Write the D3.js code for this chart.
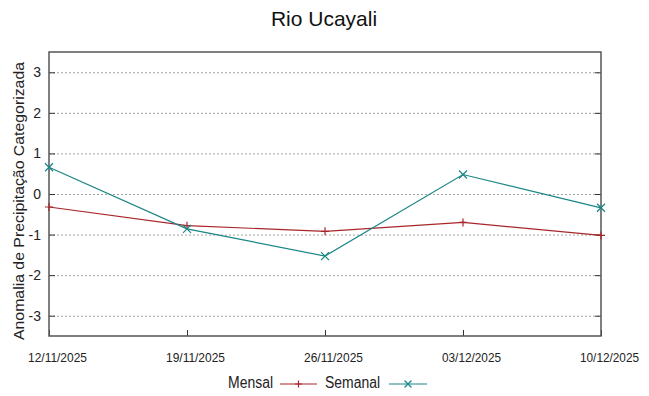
<!DOCTYPE html>
<html><head><meta charset="utf-8">
<script src="https://cdn.jsdelivr.net/npm/d3@7"></script>
<style>body{margin:0;background:#fff}svg{display:block;font-family:"Liberation Sans",Arial,sans-serif}</style>
</head><body><svg id="c" width="649" height="396"></svg>
<script>
const title = "Rio Ucayali";
const yTitle = "Anomalia de Precipitação Categorizada";
const dates = ["12/11/2025","19/11/2025","26/11/2025","03/12/2025","10/12/2025"];
const mensal = [-0.32, -0.78, -0.92, -0.70, -1.02];
const semanal = [0.66, -0.86, -1.53, 0.48, -0.34];
const yTicks = [-3,-2,-1,0,1,2,3];
const seriesNames = ["Mensal","Semanal"];
const colors = ["#a8262a","#1a8585"];

const svg = d3.select("#c");
const L=49, R=601, T=52, B=336;
const parse = d3.timeParse("%d/%m/%Y");
const xd = dates.map(parse);
const x = d3.scaleTime().domain([xd[0], xd[xd.length-1]]).range([L,R]);
const y = d3.scaleLinear().domain([-3.5,3.5]).range([B,T]);

// grid
svg.append("g").selectAll("line").data(yTicks).join("line")
  .attr("x1",L).attr("x2",R).attr("y1",d=>y(d)+0.5).attr("y2",d=>y(d)+0.5)
  .attr("stroke","#a0a0a0").attr("stroke-width",1).attr("stroke-dasharray","2,2");

// axes ticks inward
const axL = d3.axisRight(y).tickValues(yTicks).tickSize(6).tickFormat("");
const axR = d3.axisLeft(y).tickValues(yTicks).tickSize(6).tickFormat("");
const axB = d3.axisTop(x).tickValues(xd).tickSize(6).tickFormat("");
svg.append("g").attr("transform",`translate(${L},0)`).call(axL);
svg.append("g").attr("transform",`translate(${R},0)`).call(axR);
svg.append("g").attr("transform",`translate(0,${B})`).call(axB);
svg.selectAll(".domain").remove();
svg.selectAll(".tick line").attr("stroke","#333");

// frame
svg.append("rect").attr("x",L).attr("y",T).attr("width",R-L).attr("height",B-T)
  .attr("fill","none").attr("stroke","#555").attr("stroke-width",1.5);

// y labels
svg.append("g").selectAll("text").data(yTicks).join("text")
  .attr("x",41).attr("y",d=>y(d)+5).attr("text-anchor","end")
  .attr("font-size",14).attr("fill","#222").text(d=>d);

// x labels
svg.append("g").selectAll("text").data(xd).join("text")
  .attr("x",d=>x(d)+8.5).attr("y",361.5).attr("text-anchor","middle")
  .attr("font-size",13.5).attr("fill","#222")
  .attr("textLength",59).attr("lengthAdjust","spacingAndGlyphs")
  .text((d,i)=>dates[i]);

// titles
svg.append("text").attr("x",324).attr("y",26).attr("text-anchor","middle")
  .attr("font-size",21).attr("fill","#111").text(title);
svg.append("text").attr("transform","translate(24,201) rotate(-90)")
  .attr("text-anchor","middle").attr("font-size",14).attr("fill","#222")
  .attr("textLength",278).attr("lengthAdjust","spacingAndGlyphs").text(yTitle);

// lines
const line = d3.line().x((d,i)=>x(xd[i])).y(d=>y(d));
const all = [mensal, semanal];
all.forEach((s,k)=>{
  svg.append("path").datum(s).attr("d",line).attr("fill","none")
    .attr("stroke",colors[k]).attr("stroke-width",1.2);
  const g = svg.append("g");
  s.forEach((v,i)=>{
    const cx=x(xd[i]), cy=y(v), r=4;
    if(k===0){
      g.append("path").attr("d",`M${cx-r},${cy}H${cx+r}M${cx},${cy-r}V${cy+r}`)
        .attr("stroke",colors[k]).attr("stroke-width",1.2);
    } else {
      g.append("path").attr("d",`M${cx-r},${cy-r}L${cx+r},${cy+r}M${cx-r},${cy+r}L${cx+r},${cy-r}`)
        .attr("stroke",colors[k]).attr("stroke-width",1.2);
    }
  });
});

// legend
const leg = [{tx:273,lx1:280,lx2:317,w:45},{tx:380,lx1:389,lx2:427,w:55}];
leg.forEach((o,k)=>{
  svg.append("text").attr("x",o.tx).attr("y",388).attr("text-anchor","end")
    .attr("font-size",16).attr("fill","#222")
    .attr("textLength",o.w).attr("lengthAdjust","spacingAndGlyphs").text(seriesNames[k]);
  const ly=384, cx=(o.lx1+o.lx2)/2, r=3.5;
  svg.append("line").attr("x1",o.lx1).attr("x2",o.lx2).attr("y1",ly).attr("y2",ly)
    .attr("stroke",colors[k]).attr("stroke-width",1.2);
  svg.append("path").attr("d",k===0?`M${cx-r},${ly}H${cx+r}M${cx},${ly-r}V${ly+r}`:`M${cx-r},${ly-r}L${cx+r},${ly+r}M${cx-r},${ly+r}L${cx+r},${ly-r}`)
    .attr("stroke",colors[k]).attr("stroke-width",1.2);
});
</script></body></html>
